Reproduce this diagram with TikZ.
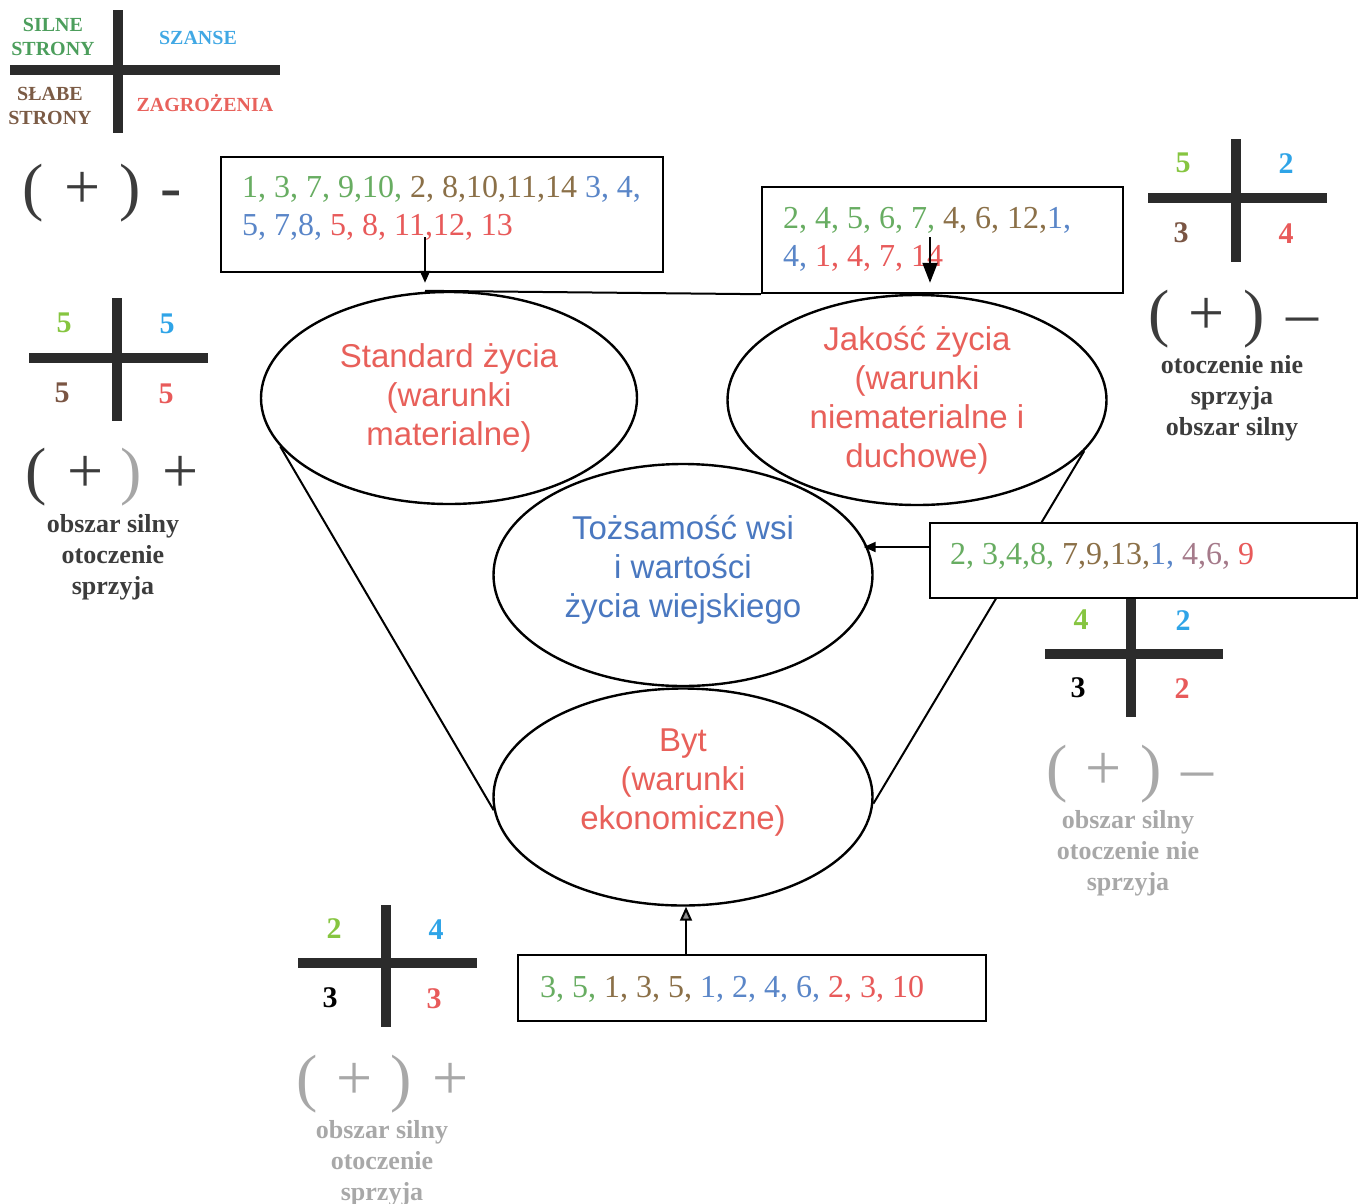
\documentclass[tikz,border=0pt]{standalone}
\usepackage{fontspec}
\setmainfont{Liberation Serif}
\newfontfamily\arialf{Liberation Sans}
\usetikzlibrary{shapes.geometric,arrows.meta}
\definecolor{gN}{HTML}{68AD62}
\definecolor{bN}{HTML}{8B7048}
\definecolor{blN}{HTML}{5A86C8}
\definecolor{rN}{HTML}{E85A5A}
\definecolor{mvN}{HTML}{A57A8A}
\definecolor{limeC}{HTML}{86C540}
\definecolor{skyC}{HTML}{2FA4E7}
\definecolor{brC}{HTML}{7A5543}
\definecolor{lgG}{HTML}{4C9E5C}
\definecolor{lgB}{HTML}{41A8E4}
\definecolor{lgBr}{HTML}{7B5B45}
\definecolor{lgR}{HTML}{E8625C}
\definecolor{ellR}{HTML}{E8605A}
\definecolor{ellB}{HTML}{4A78C0}
\definecolor{darkT}{HTML}{3C3C3C}
\definecolor{lightT}{HTML}{A8A8A8}
\definecolor{barC}{HTML}{2B2B2B}
\begin{document}
\begin{tikzpicture}[x=1pt,y=-1pt,
  ell/.style={ellipse,draw=black,line width=2.4pt,fill=white,inner sep=0pt,align=center,
    font=\arialf\fontsize{33}{39}\selectfont},
  numbox/.style={rectangle,draw=black,line width=2.4pt,fill=white,inner sep=0pt},
  boxtxt/.style={anchor=base west,inner sep=0pt,font=\fontsize{32}{38}\selectfont},
  cnum/.style={anchor=base,inner sep=0pt,font=\fontsize{30}{30}\selectfont\bfseries},
  desc/.style={anchor=north,inner sep=0pt,align=center,font=\fontsize{26}{31}\selectfont\bfseries},
  sgn/.style={anchor=base,inner sep=0pt,font=\fontsize{64}{64}\selectfont},
  lgd/.style={inner sep=0pt,align=center,font=\fontsize{20}{24}\selectfont\bfseries},
  bar/.style={line width=10pt,draw=barC},
  funnel/.style={line width=2pt,draw=black},
  conn/.style={line width=2pt,draw=black}]
\useasboundingbox (0,0) rectangle (1359,1203);

% ellipses
\node[ell,minimum width=379pt,minimum height=217pt] (B) at (683,797)
  {\textcolor{ellR}{Byt}\\\textcolor{ellR}{(warunki}\\\textcolor{ellR}{ekonomiczne)\rule[-35pt]{0pt}{1pt}}};
\node[ell,minimum width=379pt,minimum height=222pt] (M) at (683,575)
  {\textcolor{ellB}{Tożsamość wsi}\\\textcolor{ellB}{i wartości}\\\textcolor{ellB}{życia wiejskiego\rule[-18pt]{0pt}{1pt}}};
\node[ell,minimum width=376pt,minimum height=212pt] (L) at (449,398)
  {\textcolor{ellR}{Standard życia}\\\textcolor{ellR}{(warunki}\\\textcolor{ellR}{materialne)}};
\node[ell,minimum width=379pt,minimum height=210pt] (R) at (917,400)
  {\textcolor{ellR}{Jakość życia}\\\textcolor{ellR}{(warunki}\\\textcolor{ellR}{niematerialne i}\\\textcolor{ellR}{duchowe)}};

% funnel
\draw[funnel] (L.196) -- (B.184);
\draw[funnel] (R.343) -- (B.358);

% boxes
\node[numbox,minimum width=442pt,minimum height=115pt] (B1) at (442,214.5) {};
\node[numbox,minimum width=361pt,minimum height=106pt] (B2) at (942.5,240) {};
\node[numbox,minimum width=427pt,minimum height=75pt] (B3) at (1143.5,560.5) {};
\node[numbox,minimum width=468pt,minimum height=66pt] (B4) at (752,988) {};

% box texts
\node[boxtxt] (t1a) at (242,197) {\textcolor{gN}{1, 3, 7, 9,10,} \textcolor{bN}{2, 8,10,11,14} \textcolor{blN}{3, 4,}};
\node[boxtxt] (t1b) at (242,235) {\textcolor{blN}{5, 7,8,} \textcolor{rN}{5, 8, 11,12, 13}};
\node[boxtxt] (t2a) at (783,228) {\textcolor{gN}{2, 4, 5, 6, 7,} \textcolor{bN}{4, 6, 12,}\textcolor{blN}{1,}};
\node[boxtxt] (t2b) at (783,266) {\textcolor{blN}{4,} \textcolor{rN}{1, 4, 7, 14}};
\node[boxtxt] (t3) at (950,564) {\textcolor{gN}{2, 3,4,8,} \textcolor{bN}{7,9,13,}\textcolor{blN}{1,} \textcolor{mvN}{4,6,} \textcolor{rN}{9}};
\node[boxtxt] (t4) at (540,997) {\textcolor{gN}{3, 5,} \textcolor{bN}{1, 3, 5,} \textcolor{blN}{1, 2, 4, 6,} \textcolor{rN}{2, 3, 10}};

% connectors
\coordinate (a1s) at (425,237);
\coordinate (a2s) at (930,237);
\coordinate (a3s) at (930,547);
\coordinate (a4s) at (686,955);
\draw[conn,-{Triangle[length=12pt,width=10pt]},shorten >=8pt] (a1s) -- (a1s |- L.north);
\draw[conn] (a1s |- L.north) -- (B2.south west);
\draw[conn,-{Triangle[length=20pt,width=15pt]},shorten >=11pt] (a2s) -- (a2s |- R.north);
\draw[conn,-{Triangle[length=12pt,width=10pt]},shorten >=-10pt] (a3s) -- (a3s -| M.east);
\draw[conn,-{Triangle[length=14pt,width=12pt,fill=black!45]}] (a4s) -- (a4s |- B.south);

% legend
\draw[bar] (10,70) -- (280,70);
\draw[bar] (118,10) -- (118,133);
\node[lgd,anchor=north] (lg1) at (53,18) {\textcolor{lgG}{SILNE}\\\textcolor{lgG}{STRONY}};
\node[lgd] (lg2) at (198,38) {\textcolor{lgB}{SZANSE}};
\node[lgd,anchor=north] (lg3) at (50,87) {\textcolor{lgBr}{SŁABE}\\\textcolor{lgBr}{STRONY}};
\node[lgd,anchor=base] (lg4) at (205,111) {\textcolor{lgR}{ZAGROŻENIA}};
\node[sgn,text=darkT] (s1a) at (33,208) {(};
\node[sgn,text=darkT] (s1b) at (83,208) {+};
\node[sgn,text=darkT] (s1c) at (130,208) {)};
\node[sgn,text=darkT] (s1d) at (171,208) {-};

% top-right cross
\draw[bar] (1148,198) -- (1327,198);
\draw[bar] (1236,139) -- (1236,262);
\node[cnum,text=limeC] (n1) at (1183,172) {5};
\node[cnum,text=skyC] (n2) at (1286,173) {2};
\node[cnum,text=brC] (n3) at (1181,242) {3};
\node[cnum,text=rN] (n4) at (1286,243) {4};
\node[sgn,text=darkT] (s2a) at (1159,334) {(};
\node[sgn,text=darkT] (s2b) at (1207,334) {+};
\node[sgn,text=darkT] (s2c) at (1254,334) {)};
\node[sgn,text=darkT] (s2d) at (1302,334) {–};
\node[desc,text=darkT] (d2) at (1232,355) {otoczenie nie\\sprzyja\\obszar silny};

% left cross
\draw[bar] (29,358) -- (208,358);
\draw[bar] (117,298) -- (117,421);
\node[cnum,text=limeC] (n5) at (64,332) {5};
\node[cnum,text=skyC] (n6) at (167,333) {5};
\node[cnum,text=brC] (n7) at (62,402) {5};
\node[cnum,text=rN] (n8) at (166,403) {5};
\node[sgn,text=darkT] (s3a) at (36,492) {(};
\node[sgn,text=darkT] (s3b) at (86,492) {+};
\node[sgn,text=black!35] (s3c) at (131,492) {)};
\node[sgn,text=darkT] (s3d) at (181,492) {+};
\node[desc,text=darkT] (d3) at (113,514) {obszar silny\\otoczenie\\sprzyja};

% right-middle cross
\draw[bar] (1045,654) -- (1223,654);
\draw[bar] (1131,599) -- (1131,717);
\node[cnum,text=limeC] (n9) at (1081,629) {4};
\node[cnum,text=skyC] (n10) at (1183,630) {2};
\node[cnum,text=black] (n11) at (1078,697) {3};
\node[cnum,text=rN] (n12) at (1182,698) {2};
\node[sgn,text=lightT] (s4a) at (1057,789) {(};
\node[sgn,text=lightT] (s4b) at (1104,789) {+};
\node[sgn,text=lightT] (s4c) at (1151,789) {)};
\node[sgn,text=lightT] (s4d) at (1197,789) {–};
\node[desc,text=lightT] (d4) at (1128,810) {obszar silny\\otoczenie nie\\sprzyja};

% bottom cross
\draw[bar] (298,963) -- (477,963);
\draw[bar] (386,905) -- (386,1027);
\node[cnum,text=limeC] (n13) at (334,938) {2};
\node[cnum,text=skyC] (n14) at (436,939) {4};
\node[cnum,text=black] (n15) at (330,1007) {3};
\node[cnum,text=rN] (n16) at (434,1008) {3};
\node[sgn,text=lightT] (s5a) at (307,1099) {(};
\node[sgn,text=lightT] (s5b) at (355,1099) {+};
\node[sgn,text=lightT] (s5c) at (401,1099) {)};
\node[sgn,text=lightT] (s5d) at (451,1099) {+};
\node[desc,text=lightT] (d5) at (382,1120) {obszar silny\\otoczenie\\sprzyja};
\end{tikzpicture}
\end{document}
